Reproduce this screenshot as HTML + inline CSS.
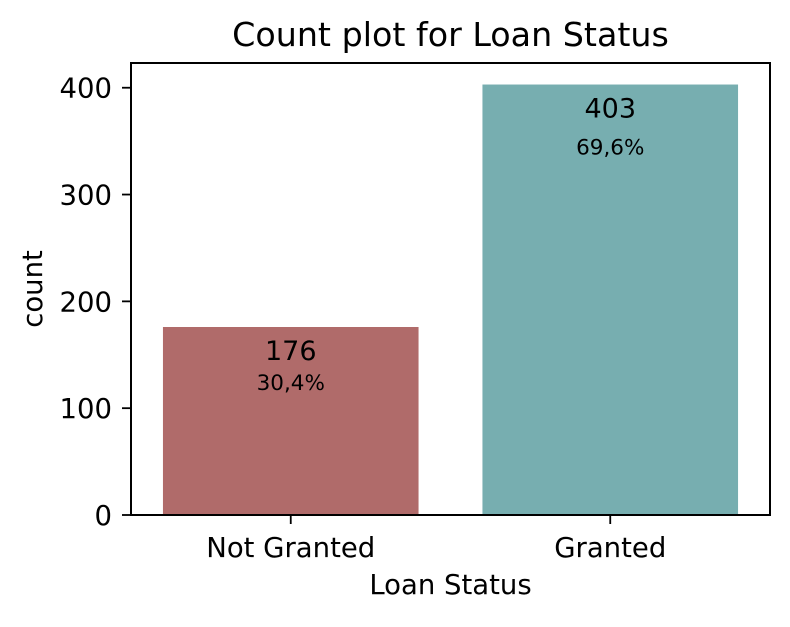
<!DOCTYPE html>
<html><head><meta charset="utf-8">
<style>
body{margin:0;background:#fff;}
svg{font-family:"DejaVu Sans","Liberation Sans",sans-serif;}
</style></head>
<body>
<svg id="chart" width="790" height="622" viewBox="0 0 790 622">
<rect width="790" height="622" fill="#fff"/>
<text x="450.5" y="46" text-anchor="middle" font-size="33.3">Count plot for Loan Status</text>
<g id="bars"></g>
<g id="yaxis"></g>
<g id="xaxis"></g>
<rect x="131" y="63" width="639" height="452" fill="none" stroke="#000" stroke-width="2"/>
<text x="450.5" y="594" text-anchor="middle" font-size="27.5">Loan  Status</text>
<text transform="translate(42,289) rotate(-90)" text-anchor="middle" font-size="27.5">count</text>
</svg>
<script>
const categories = ["Not Granted", "Granted"];
const counts = [176, 403];
const percents = ["30,4%", "69,6%"];
const yTicks = [0, 100, 200, 300, 400];
const colors = ["#b06b6a", "#77aeb0"];

const L = 131, R = 770, T = 63, B = 515;
const yMax = Math.max(...counts) * 1.05;
const y = v => B - v / yMax * (B - T);
const band = (R - L) / categories.length;
const xc = i => L + band * (i + 0.5);
const bw = band * 0.8;
const NS = "http://www.w3.org/2000/svg";
function mk(tag, attrs, parent) {
  const e = document.createElementNS(NS, tag);
  for (const k in attrs) e.setAttribute(k, attrs[k]);
  parent.appendChild(e);
  return e;
}
const gb = document.getElementById("bars");
const gy = document.getElementById("yaxis");
const gx = document.getElementById("xaxis");

categories.forEach((c, i) => {
  const r = mk("rect", {x: xc(i) - bw / 2, y: y(counts[i]), width: bw, height: B - y(counts[i]), fill: colors[i]}, gb);
  
  
  const t1 = mk("text", {x: xc(i), y: y(counts[i]) + 33, "text-anchor": "middle", "font-size": "27"}, gb);
  t1.textContent = counts[i];
  
  
  const t2 = mk("text", {x: xc(i), y: y(counts[i] * 0.97 - 46) + 8, "text-anchor": "middle", "font-size": "21.5"}, gb);
  t2.textContent = percents[i];
  
  
  const tk = mk("line", {x1: xc(i), x2: xc(i), y1: B, y2: B + 9, stroke: "#000", "stroke-width": 1.8}, gx);
  
  
  const tl = mk("text", {x: xc(i), y: B + 42, "text-anchor": "middle", "font-size": "27.5"}, gx);
  tl.textContent = c;
  
  
});
yTicks.forEach(v => {
  const tk = mk("line", {x1: L - 9, x2: L, y1: y(v), y2: y(v), stroke: "#000", "stroke-width": 1.8}, gy);
  
  
  const tl = mk("text", {x: L - 19, y: y(v) + 10, "text-anchor": "end", "font-size": "27.5"}, gy);
  tl.textContent = v;
  
  
});
</script>
</body></html>
